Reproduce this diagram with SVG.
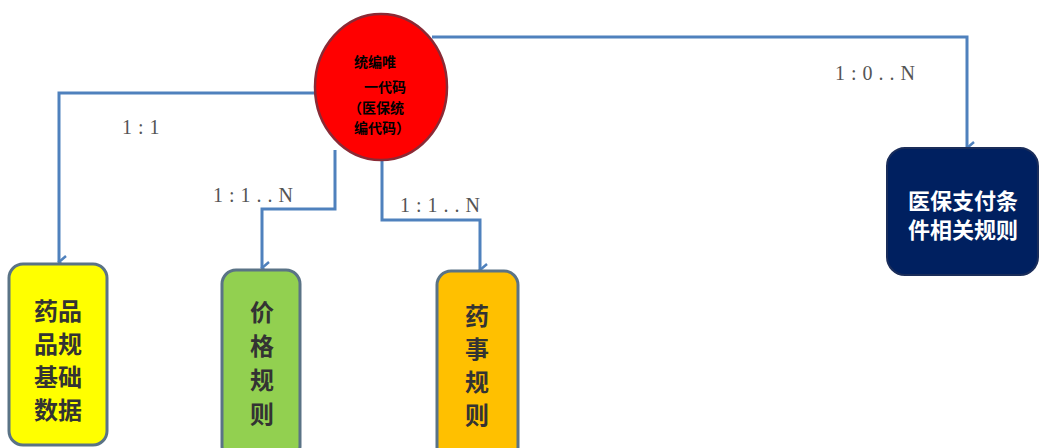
<svg xmlns="http://www.w3.org/2000/svg" width="1039" height="448" viewBox="0 0 1039 448">
<style>
.conn{fill:none;stroke:#4f81bd;stroke-width:3}
.lbl{font-family:"Liberation Serif","Noto Sans CJK SC",serif;font-size:20px;fill:#555;letter-spacing:6px}
.cjk{font-family:"Noto Sans CJK SC",sans-serif;font-weight:bold}
.box{stroke:#5a7386;stroke-width:3}
</style>
<defs>
<marker id="arr" viewBox="0 0 14 14" refX="7" refY="12" markerWidth="14" markerHeight="14" markerUnits="userSpaceOnUse" orient="auto-start-reverse">
<path d="M1,5 L7,12 L13,5" fill="none" stroke="#4f81bd" stroke-width="2.5"/>
</marker>
</defs>
<rect width="1039" height="448" fill="#fff"/>
<g id="connectors">
<path class="conn" d="M318,93 H59 V262" marker-end="url(#arr)"/>
<path class="conn" d="M335,150 V209 H262 V268" marker-end="url(#arr)"/>
<path class="conn" d="M382,155 V220 H480 V270" marker-end="url(#arr)"/>
<path class="conn" d="M432,37 H967 V148" marker-end="url(#arr)"/>
<text class="lbl" x="122" y="134">1:1</text>
<text class="lbl" x="213" y="202">1:1..N</text>
<text class="lbl" x="400" y="212">1:1..N</text>
<text class="lbl" x="835" y="80">1:0..N</text>
</g>
<g id="center">
<ellipse cx="381" cy="87" rx="66" ry="73" fill="#ff0000" stroke="#8a2a35" stroke-width="2.5"/>
<g class="cjk" font-size="14" fill="#000">
<text x="354" y="67">统编唯</text>
<text x="364" y="92">一代码</text>
<text x="348" y="113">（医保统</text>
<text x="354" y="133">编代码）</text>
</g>
</g>
<g id="node-yaopin">
<rect class="box" x="9" y="264" width="98" height="181" rx="14" fill="#ffff00"/>
<g class="cjk" font-size="24" fill="#333" text-anchor="middle">
<text x="58" y="320">药品</text>
<text x="58" y="353">品规</text>
<text x="58" y="386">基础</text>
<text x="58" y="419">数据</text>
</g>
</g>
<g id="node-jiage">
<rect class="box" x="222" y="270" width="78" height="190" rx="14" fill="#92d050"/>
<g class="cjk" font-size="24" fill="#333" text-anchor="middle">
<text x="262" y="321">价</text>
<text x="262" y="355">格</text>
<text x="262" y="389">规</text>
<text x="262" y="423">则</text>
</g>
</g>
<g id="node-yaoshi">
<rect class="box" x="437" y="271" width="81" height="190" rx="14" fill="#ffc000"/>
<g class="cjk" font-size="24" fill="#333" text-anchor="middle">
<text x="477" y="325">药</text>
<text x="477" y="358">事</text>
<text x="477" y="391">规</text>
<text x="477" y="424">则</text>
</g>
</g>
<g id="node-yibao">
<rect x="887" y="148" width="151" height="127" rx="18" fill="#002060" stroke="#1a2d5a" stroke-width="2"/>
<g class="cjk" font-size="22" fill="#fff" text-anchor="middle">
<text x="963" y="209">医保支付条</text>
<text x="963" y="238">件相关规则</text>
</g>
</g>
</svg>
